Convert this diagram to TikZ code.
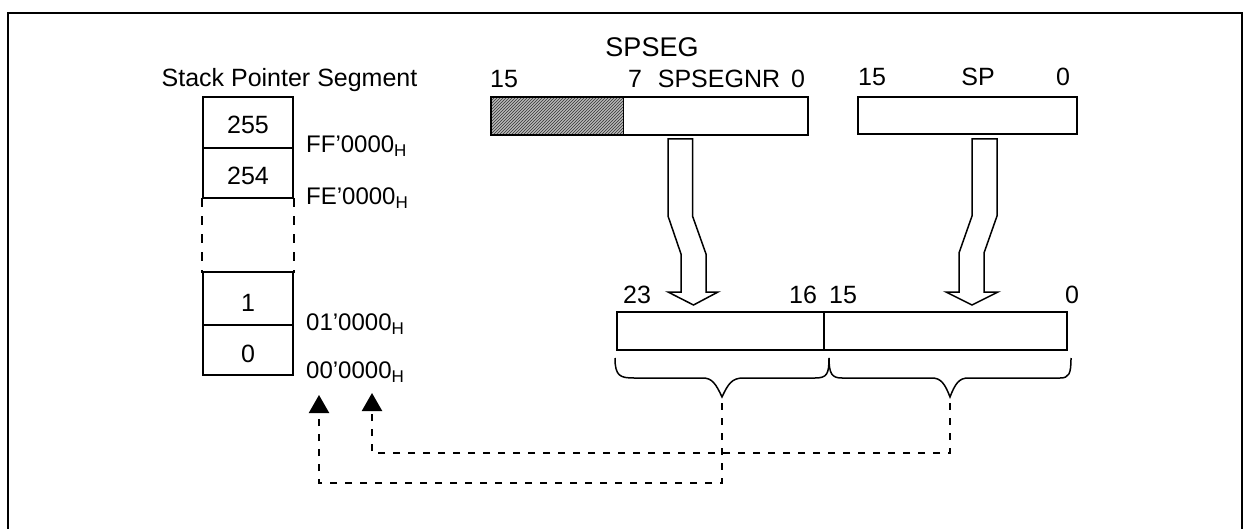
\documentclass[tikz,border=0pt]{standalone}
\usepackage{fontspec}
\setmainfont{Liberation Sans}
\usetikzlibrary{arrows.meta,patterns}
\newcommand{\hsub}[1]{#1\raisebox{-4pt}{\fontsize{17}{17}\selectfont H}}
\begin{document}
\begin{tikzpicture}[x=1pt,y=-1pt,
  txt/.style={font=\fontsize{25}{29}\selectfont, inner sep=0pt, anchor=base},
  addr/.style={font=\fontsize{24}{28}\selectfont, inner sep=0pt, anchor=base west},
  cell/.style={draw, line width=2.2pt, minimum width=90pt, inner sep=0pt},
  reg/.style={draw, line width=2.2pt, inner sep=0pt},
  wide/.style={draw, line width=1.5pt, fill=white, line join=miter},
  dashconn/.style={line width=2.2pt, dash pattern=on 7pt off 8pt, -{Triangle[length=18pt,width=20pt]}},
  bracestyle/.style={line width=1.5pt}
]
\useasboundingbox (0,0) rectangle (1244,529);
% frame
\draw[line width=2.2pt] (8,529) -- (8,13) -- (1242,13) -- (1242,529);

% stack pointer segment
\node[txt] (title) at (289.5,87) {Stack Pointer Segment};
\node[cell, minimum height=51pt] (c255) at (248,122.5) {};
\node[txt] (l255) at (248,134) {255};
\node[cell, minimum height=50pt] (c254) at (248,173) {};
\node[txt] (l254) at (248,185) {254};
\draw[line width=2.2pt, dash pattern=on 9pt off 9pt] (c254.south west) ++(0,-1) -- ++(0,75);
\draw[line width=2.2pt, dash pattern=on 9pt off 9pt] (c254.south east) ++(0,-1) -- ++(0,75);
\node[cell, minimum height=53pt] (c1) at (248,298.5) {};
\node[txt] (l1) at (248,311) {1};
\node[cell, minimum height=50pt] (c0) at (248,350) {};
\node[txt] (l0) at (248,362) {0};

\node[addr] (aFF) at (306,153) {\hsub{FF’0000}};
\node[addr] (aFE) at (306,205) {\hsub{FE’0000}};
\node[addr] (a01) at (306,330) {\hsub{01’0000}};
\node[addr] (a00) at (306,378) {\hsub{00’0000}};

% SPSEG register
\node[txt, font=\fontsize{27}{31}\selectfont] (spsegt) at (652,57) {SPSEG};
\fill[gray!55] (491,97) rectangle (623,135);
\fill[pattern=north east lines, pattern color=black!80] (491,97) rectangle (623,135);
\draw[line width=1pt] (623,97) -- (623,135);
\node[reg, minimum width=317pt, minimum height=38pt] (spseg) at (649.5,116) {};
\node[txt] (s15) at (504,88) {15};
\node[txt] (s7) at (635,88) {7};
\node[txt] (snr) at (719,88) {SPSEGNR};
\node[txt] (s0) at (798,88) {0};

% SP register
\node[reg, minimum width=219pt, minimum height=37pt] (sp) at (967.5,115.5) {};
\node[txt] (p15) at (872,86) {15};
\node[txt] (psp) at (978,86) {SP};
\node[txt] (p0) at (1063,86) {0};

% wide arrows
\draw[wide] (668,139) -- (668,216) -- (681,254) -- (681,292) -- (668,292) -- (693.5,305)
  -- (718,292) -- (706,292) -- (706,254) -- (692.5,216) -- (692.5,139) -- cycle;
\draw[wide] (972,139) -- (972,216) -- (959,253) -- (959,292) -- (946,292) -- (972,305)
  -- (998,292) -- (984,292) -- (984,253) -- (997,216) -- (997,139) -- cycle;

% result register
\node[reg, minimum width=207pt, minimum height=38pt] (hi) at (720.5,331) {};
\node[reg, minimum width=243pt, minimum height=38pt] (lo) at (945.5,331) {};
\node[txt] (r23) at (637,303) {23};
\node[txt] (r16) at (803,303) {16};
\node[txt] (r15) at (843,303) {15};
\node[txt] (r0) at (1072,303) {0};

% braces
\draw[bracestyle] (615,358) .. controls (615,376) and (620,378) .. (634,378) -- (703,378)
  .. controls (712,378) and (716,384) .. (722,397)
  .. controls (728,384) and (732,378) .. (743,378) -- (815,378)
  .. controls (827,378) and (829,374) .. (829,358);
\draw[bracestyle] (829,358) .. controls (829,374) and (832,378) .. (842,378) -- (932,378)
  .. controls (941,378) and (945,384) .. (950,397)
  .. controls (955,384) and (959,378) .. (968,378) -- (1060,378)
  .. controls (1069,378) and (1071,374) .. (1071,358);
\coordinate (b1) at (722,403);
\coordinate (b2) at (950,403);
\coordinate (t1) at (319,395);
\coordinate (t2) at (372,393);

% dashed connectors
\draw[dashconn] (b1) |- (t1 |- 0,483) -- (t1);
\draw[dashconn] (b2) |- (t2 |- 0,453) -- (t2);
\end{tikzpicture}
\end{document}
